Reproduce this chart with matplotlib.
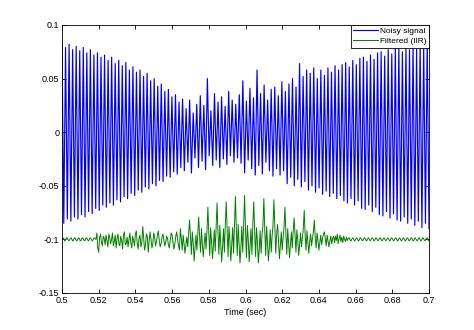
import numpy as np
import matplotlib
matplotlib.use('Agg')
import matplotlib.pyplot as plt

# noisy signal: upper and lower peak of every cycle
blue_hi = [0.083, 0.079, 0.082, 0.077, 0.080,
           0.076, 0.079, 0.074, 0.077, 0.072,
           0.074, 0.070, 0.072, 0.067, 0.070,
           0.064, 0.067, 0.062, 0.065, 0.058,
           0.061, 0.056, 0.058, 0.052, 0.055,
           0.048, 0.050, 0.043, 0.045, 0.038,
           0.040, 0.033, 0.035, 0.028, 0.031,
           0.022, 0.030, 0.018, 0.026, 0.034,
           0.025, 0.050, 0.020, 0.036, 0.028,
           0.033, 0.024, 0.038, 0.030, 0.026,
           0.035, 0.048, 0.029, 0.041, 0.032,
           0.058, 0.036, 0.044, 0.030, 0.040,
           0.042, 0.034, 0.047, 0.038, 0.045,
           0.050, 0.042, 0.064, 0.052, 0.058,
           0.055, 0.060, 0.050, 0.058, 0.053,
           0.060, 0.056, 0.062, 0.058, 0.063,
           0.065, 0.061, 0.067, 0.063, 0.069,
           0.070, 0.066, 0.072, 0.068, 0.074,
           0.075, 0.071, 0.077, 0.073, 0.078,
           0.079, 0.075, 0.080, 0.077, 0.082, 0.078, 0.083, 0.080, 0.085]
blue_lo = [-0.085, -0.081, -0.083, -0.079, -0.081,
           -0.077, -0.079, -0.074, -0.076, -0.071,
           -0.073, -0.068, -0.070, -0.066, -0.068,
           -0.063, -0.065, -0.060, -0.062, -0.057,
           -0.059, -0.054, -0.056, -0.051, -0.053,
           -0.048, -0.050, -0.045, -0.046, -0.041,
           -0.042, -0.037, -0.039, -0.033, -0.036,
           -0.028, -0.038, -0.024, -0.033, -0.027,
           -0.035, -0.022, -0.031, -0.026, -0.033,
           -0.025, -0.030, -0.022, -0.028, -0.024,
           -0.029, -0.038, -0.026, -0.034, -0.040,
           -0.031, -0.039, -0.028, -0.036, -0.041,
           -0.034, -0.040, -0.036, -0.048, -0.042,
           -0.050, -0.044, -0.051, -0.046, -0.054,
           -0.050, -0.056, -0.052, -0.058, -0.055,
           -0.060, -0.057, -0.062, -0.059, -0.064,
           -0.066, -0.062, -0.068, -0.064, -0.071,
           -0.072, -0.068, -0.074, -0.070, -0.077,
           -0.078, -0.074, -0.080, -0.076, -0.082,
           -0.083, -0.079, -0.085, -0.081, -0.087, -0.083, -0.089, -0.085, -0.090]

# filtered signal, sampled every 0.5 ms from 0.5 s to 0.7 s
green_start = [-0.1000, -0.0985, -0.0995, -0.1015, -0.1005, -0.0985, -0.0990, -0.1010,
               -0.1010, -0.0990, -0.0985, -0.1005, -0.1015, -0.0995, -0.0985, -0.1000,
               -0.1015, -0.1000, -0.0985, -0.0995, -0.1015, -0.1005, -0.0985, -0.0990,
               -0.1010, -0.1010, -0.0990, -0.0985, -0.1005, -0.1015, -0.0995, -0.0985,
               -0.1000, -0.1015, -0.1000, -0.0985, -0.0995]
green_noise = [-0.100, -0.094, -0.108, -0.112, -0.098, -0.095, -0.103, -0.106, -0.097, -0.099,
               -0.105, -0.096, -0.101, -0.107, -0.095, -0.098, -0.104, -0.100, -0.094, -0.106,
               -0.102, -0.096, -0.108, -0.099, -0.095, -0.104, -0.106, -0.097, -0.101, -0.109,
               -0.096, -0.093, -0.105, -0.104, -0.098, -0.107, -0.100, -0.094, -0.103, -0.108,
               -0.097, -0.101, -0.106, -0.095, -0.092, -0.104, -0.109, -0.099, -0.096, -0.107,
               -0.103, -0.088, -0.099, -0.110, -0.105, -0.095, -0.097, -0.112, -0.101, -0.093,
               -0.100, -0.108, -0.104, -0.094, -0.098, -0.106, -0.102, -0.096, -0.092, -0.101,
               -0.107, -0.104, -0.098, -0.095, -0.100, -0.106, -0.103, -0.097, -0.099, -0.105,
               -0.108, -0.101, -0.094, -0.096, -0.103, -0.109, -0.104, -0.097, -0.093, -0.100,
               -0.106, -0.110]
green_burst = [-0.090, -0.099, -0.110, -0.096, -0.104, -0.113, -0.105, -0.098, -0.107, -0.095,
               -0.082, -0.097, -0.114, -0.093, -0.103, -0.120, -0.108, -0.096, -0.110, -0.094,
               -0.079, -0.098, -0.112, -0.090, -0.105, -0.116, -0.104, -0.094, -0.109, -0.092,
               -0.070, -0.094, -0.115, -0.089, -0.102, -0.118, -0.106, -0.091, -0.111, -0.088,
               -0.066, -0.093, -0.114, -0.087, -0.104, -0.121, -0.107, -0.090, -0.112, -0.086,
               -0.065, -0.092, -0.116, -0.088, -0.101, -0.120, -0.105, -0.089, -0.113, -0.085,
               -0.060, -0.090, -0.115, -0.086, -0.103, -0.122, -0.108, -0.088, -0.112, -0.084,
               -0.059, -0.091, -0.117, -0.087, -0.100, -0.121, -0.106, -0.090, -0.114, -0.086,
               -0.065, -0.093, -0.116, -0.089, -0.102, -0.122, -0.109, -0.092, -0.113, -0.096, -0.087,
               -0.062, -0.091, -0.115, -0.088, -0.104, -0.120, -0.107, -0.091, -0.112, -0.097, -0.086,
               -0.063, -0.090, -0.113, -0.094, -0.086, -0.103, -0.118, -0.106, -0.093, -0.110, -0.098, -0.088,
               -0.070, -0.094, -0.114, -0.090, -0.104, -0.117, -0.105, -0.093, -0.108, -0.092,
               -0.080, -0.097, -0.112, -0.091, -0.101, -0.115, -0.104, -0.094, -0.107, -0.098, -0.090,
               -0.073, -0.096, -0.110, -0.092, -0.103, -0.113, -0.102, -0.095, -0.106, -0.099, -0.093,
               -0.082, -0.098, -0.108, -0.094, -0.101, -0.110, -0.103, -0.096, -0.105, -0.099, -0.095,
               -0.093, -0.099, -0.106, -0.096, -0.102, -0.107, -0.101, -0.097, -0.104, -0.099, -0.097]
green_end = [-0.103, -0.097, -0.101, -0.095, -0.104, -0.099, -0.096, -0.102, -0.098, -0.103,
             -0.097, -0.100, -0.102, -0.098,
             -0.1010, -0.0990, -0.0985, -0.1005, -0.1015, -0.0995, -0.0985, -0.1000, -0.1015, -0.1000,
             -0.0985, -0.0995, -0.1015, -0.1005, -0.0985, -0.0990, -0.1010, -0.1010, -0.0990, -0.0985,
             -0.1005, -0.1015, -0.0995, -0.0985, -0.1000, -0.1015, -0.1000, -0.0985, -0.0995, -0.1015,
             -0.1005, -0.0985, -0.0990, -0.1010, -0.1010, -0.0990, -0.0985, -0.1005, -0.1015, -0.0995,
             -0.0985, -0.1000, -0.1015, -0.1000, -0.0985, -0.0995, -0.1015, -0.1005, -0.0985, -0.0990,
             -0.1010, -0.1010, -0.0990, -0.0985, -0.1005, -0.1015, -0.0995, -0.0985, -0.1000, -0.1015,
             -0.1000, -0.0985, -0.0995, -0.1015, -0.1005, -0.0985, -0.0990, -0.1010, -0.1010, -0.0990,
             -0.0985, -0.1005, -0.1015, -0.0995, -0.0985, -0.1000, -0.1015, -0.1000, -0.0985, -0.0995,
             -0.1015, -0.1005, -0.0985, -0.0990, -0.1010, -0.1010, -0.0990, -0.0985, -0.1005, -0.1015]

xticks = [0.5, 0.52, 0.54, 0.56, 0.58, 0.6, 0.62, 0.64, 0.66, 0.68, 0.7]
yticks = [-0.15, -0.1, -0.05, 0, 0.05, 0.1]

plt.rcParams['font.family'] = ['Liberation Sans', 'DejaVu Sans']

# zigzag through the peaks
noisy = np.empty(2 * len(blue_hi))
noisy[0::2] = blue_hi
noisy[1::2] = blue_lo
t_noisy = np.linspace(0.5, 0.7, len(noisy))

filt = np.array(green_start + green_noise + green_burst + green_end)
t_filt = np.linspace(0.5, 0.7, len(filt))

fig = plt.figure(figsize=(4.74, 3.30), dpi=100)
ax = fig.add_axes([62 / 474, 37 / 330, 367 / 474, 268 / 330])
ax.plot(t_noisy, noisy, color=(0, 0, 1), lw=0.85, label='Noisy signal')
ax.plot(t_filt, filt, color=(0, 0.5, 0), lw=0.7, label='Filtered (IIR)')

ax.set_xlim(0.5, 0.7)
ax.set_ylim(-0.15, 0.1)
ax.set_xticks(xticks)
ax.set_xticklabels(['%g' % v for v in xticks])
ax.set_yticks(yticks)
ax.set_yticklabels(['%g' % v for v in yticks])
ax.tick_params(direction='in', length=3, width=0.6, labelsize=6.5,
               top=True, right=True, pad=2)
for s in ax.spines.values():
    s.set_linewidth(0.6)
ax.set_xlabel('Time (sec)', fontsize=6.5, labelpad=2)

leg = ax.legend(loc='upper right', fontsize=6, handlelength=3.0,
                borderaxespad=0, fancybox=False, framealpha=1,
                borderpad=0.3, labelspacing=0.25, handletextpad=0.2)
leg.get_frame().set_edgecolor('black')
leg.get_frame().set_linewidth(0.6)

fig.savefig('out.png', dpi=100)
